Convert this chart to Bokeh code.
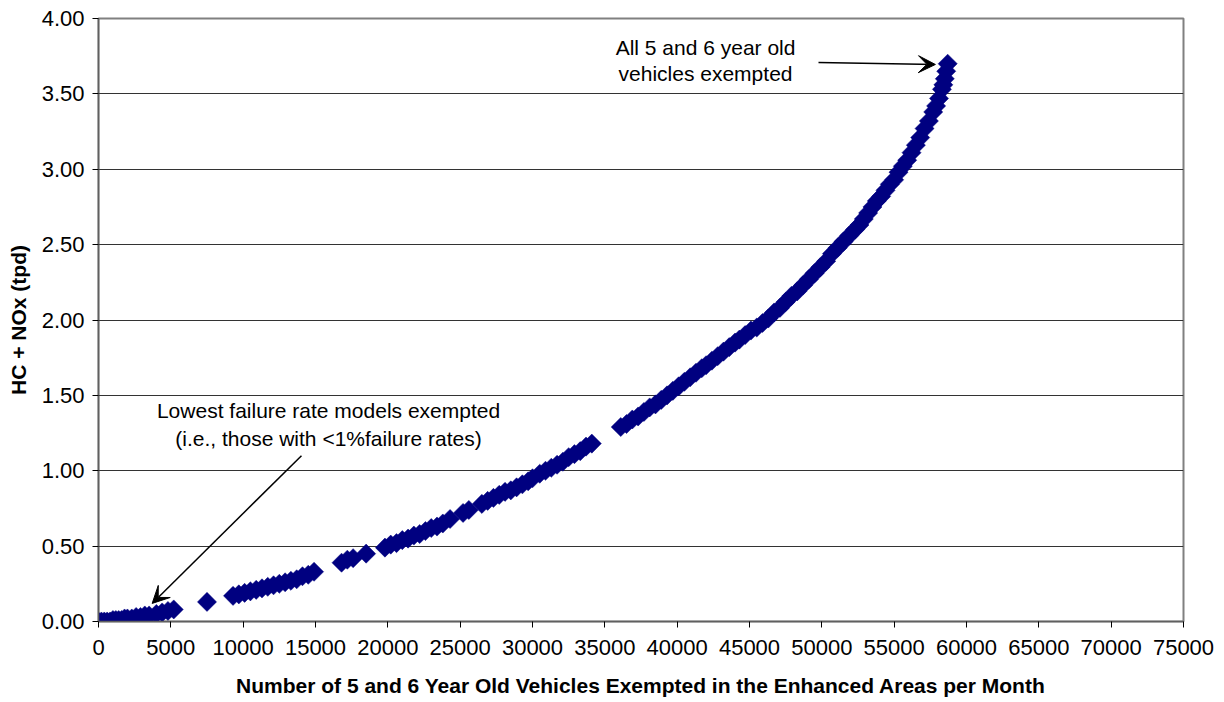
from bokeh.plotting import figure
from bokeh.models import Range1d, FixedTicker, NumeralTickFormatter, BasicTickFormatter, Arrow, VeeHead, ColumnDataSource
from bokeh.core.properties import value
from bokeh.embed import file_html
from bokeh.resources import INLINE

# ---- data ----
vehicles_exempted = [
    0, 200, 400, 600, 800, 1000, 1200, 1400, 1600, 1800, 2000, 2300, 2600, 2900, 3200, 3500,
    4000, 4400, 4800, 5200,
    7500,
    9300, 9700, 10100, 10500, 10900, 11300, 11700, 12100, 12500, 12900, 13300, 13700, 14100, 14500, 14900,
    16800, 17200, 17600, 18500,
    19800, 20200, 20600, 21000, 21400, 21800, 22200, 22600, 23000, 23400, 23800, 24300,
    25200, 25600,
    26500, 26900, 27300, 27700, 28100, 28500, 28900, 29300, 29700, 30000,
    30500, 30900, 31300, 31700, 32100, 32500, 32900, 33300, 33700, 34100,
    36100, 36500, 36900, 37300, 37700, 38100, 38500, 38900, 39300, 39700, 40100, 40500, 40900, 41300, 41700,
    42000, 42400, 42800, 43200, 43600, 44000, 44300,
    44700, 45100, 45500, 45900, 46300, 46700, 47100, 47500, 47900, 48300, 48700, 49100, 49500, 49900,
    50300, 50700, 51100, 51500, 51900,
    52300, 52600, 52900, 53200, 53500, 53800, 54100,
    54400, 54700, 55000, 55300, 55600, 55900, 56200, 56500, 56800, 57100, 57400, 57700, 57900, 58100,
    58300, 58400, 58500, 58600, 58700,
]
hc_nox_tpd = [
    0.00, 0.00, 0.00, 0.00, 0.00, 0.01, 0.01, 0.01, 0.01, 0.02, 0.02, 0.02, 0.03, 0.03, 0.04, 0.04,
    0.05, 0.06, 0.07, 0.08,
    0.13,
    0.17, 0.18, 0.19, 0.20, 0.21, 0.22, 0.23, 0.24, 0.25, 0.26, 0.27, 0.28, 0.30, 0.31, 0.33,
    0.39, 0.41, 0.42, 0.45,
    0.49, 0.51, 0.52, 0.54, 0.55, 0.57, 0.58, 0.60, 0.62, 0.63, 0.65, 0.68,
    0.72, 0.74,
    0.78, 0.80, 0.82, 0.84, 0.86, 0.87, 0.89, 0.91, 0.93, 0.95,
    0.98, 1.00, 1.02, 1.04, 1.06, 1.09, 1.11, 1.13, 1.16, 1.18,
    1.29, 1.31, 1.34, 1.36, 1.39, 1.42, 1.44, 1.47, 1.50, 1.53, 1.56, 1.59, 1.62, 1.65, 1.68,
    1.70, 1.73, 1.76, 1.79, 1.82, 1.85, 1.87,
    1.90, 1.93, 1.95, 1.98, 2.01, 2.05, 2.08, 2.12, 2.16, 2.19, 2.23, 2.27, 2.31, 2.35,
    2.39, 2.44, 2.48, 2.52, 2.56,
    2.60, 2.63, 2.67, 2.71, 2.75, 2.79, 2.82,
    2.86, 2.90, 2.93, 2.98, 3.02, 3.06, 3.11, 3.16, 3.21, 3.27, 3.32, 3.38, 3.42, 3.47,
    3.53, 3.56, 3.60, 3.65, 3.70,
]

x_ticks = list(range(0, 75001, 5000))
y_ticks = [0.0, 0.5, 1.0, 1.5, 2.0, 2.5, 3.0, 3.5, 4.0]

note_top_lines = ["All 5 and 6 year old", "vehicles exempted"]
note_top_x = 41960
note_top_y = [3.81, 3.635]
arrow_top = dict(x_start=49770, y_start=3.708, x_end=57850, y_end=3.695)

note_low_lines = ["Lowest failure rate models exempted", "(i.e., those with <1%failure rates)"]
note_low_x = 15900
note_low_y = [1.40, 1.215]
arrow_low = dict(x_start=14030, y_start=1.10, x_end=3710, y_end=0.12)

FONT = "Liberation Sans"

p = figure(frame_width=1085, frame_height=603, x_range=Range1d(0, 75000), y_range=Range1d(0, 4),
           output_backend="svg", toolbar_location=None,
           min_border_left=98, min_border_right=33, min_border_top=18, min_border_bottom=60)
p.background_fill_color = "white"
p.border_fill_color = "white"
p.outline_line_color = "#808080"
p.outline_line_width = 2

src = ColumnDataSource(dict(x=vehicles_exempted, y=hc_nox_tpd))
p.scatter("x", "y", source=src, marker="square", angle=0.785398, size=13.5,
          fill_color="#000080", line_color="#000080", line_width=0.5)

# axes
p.xaxis.ticker = FixedTicker(ticks=x_ticks)
p.yaxis.ticker = FixedTicker(ticks=y_ticks)
p.xaxis.formatter = BasicTickFormatter(use_scientific=False)
p.yaxis.formatter = NumeralTickFormatter(format="0.00")
for ax in (p.xaxis, p.yaxis):
    ax.major_label_text_font = FONT
    ax.major_label_text_font_size = "22px"
    ax.major_label_text_color = "black"
    ax.axis_label_text_font = FONT
    ax.axis_label_text_font_size = "21px"
    ax.axis_label_text_font_style = "bold"
    ax.axis_label_text_color = "black"
    ax.axis_line_color = "#606060"
    ax.axis_line_width = 1.5
    ax.major_tick_line_color = "black"
    ax.major_tick_in = 0
    ax.major_tick_out = 6
    ax.minor_tick_line_color = None
p.xaxis.axis_label = "Number of 5 and 6 Year Old Vehicles Exempted in the Enhanced Areas per Month"
p.yaxis.axis_label = "HC + NOx (tpd)"
p.xaxis.major_label_standoff = 12
p.xaxis.axis_label_standoff = 16
p.yaxis.major_label_standoff = 8
p.yaxis.axis_label_standoff = 9

p.xgrid.grid_line_color = None
p.ygrid.grid_line_color = "#333333"
p.ygrid.grid_line_width = 1

# annotations
p.text(x=[note_top_x] * 2, y=note_top_y, text=note_top_lines, text_align="center",
       text_baseline="middle", text_font=value(FONT), text_font_size="21px", text_color="black")
p.text(x=[note_low_x] * 2, y=note_low_y, text=note_low_lines, text_align="center",
       text_baseline="middle", text_font=value(FONT), text_font_size="21px", text_color="black")

p.add_layout(Arrow(end=VeeHead(size=17, fill_color="black", line_color="black"),
                   line_color="black", line_width=1.5, **arrow_top))
p.add_layout(Arrow(end=VeeHead(size=17, fill_color="black", line_color="black"),
                   line_color="black", line_width=1.5, **arrow_low))

open("out.html", "w").write(file_html(p, INLINE))
